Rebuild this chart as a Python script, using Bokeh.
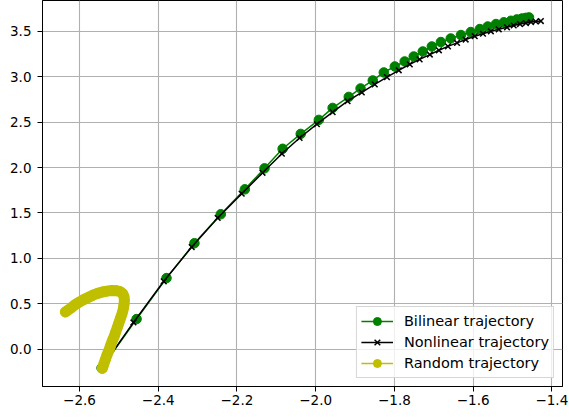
from bokeh.plotting import figure
from bokeh.models import FixedTicker, CustomJSTickFormatter, Range1d
from bokeh.embed import file_html
from bokeh.resources import INLINE

# Bilinear trajectory (green, circles)
bil_x = [-2.544, -2.455, -2.379, -2.308, -2.241, -2.180, -2.130, -2.084, -2.038, -1.992,
         -1.957, -1.916, -1.886, -1.855, -1.827, -1.799, -1.774, -1.751, -1.728, -1.705,
         -1.682, -1.657, -1.631, -1.606, -1.583, -1.563, -1.542, -1.522, -1.504, -1.489,
         -1.476, -1.466, -1.458]
bil_y = [-0.207, 0.332, 0.783, 1.167, 1.486, 1.760, 1.991, 2.206, 2.370, 2.524,
         2.656, 2.777, 2.870, 2.958, 3.046, 3.112, 3.167, 3.222, 3.277, 3.332,
         3.381, 3.420, 3.458, 3.491, 3.524, 3.552, 3.579, 3.598, 3.615, 3.630,
         3.640, 3.647, 3.652]

# Nonlinear trajectory (black, x markers)
non_x = [-2.544, -2.463, -2.386, -2.315, -2.249, -2.188, -2.135, -2.086, -2.041, -1.997,
         -1.957, -1.919, -1.883, -1.850, -1.819, -1.789, -1.761, -1.736, -1.710, -1.687,
         -1.664, -1.641, -1.619, -1.596, -1.575, -1.555, -1.535, -1.514, -1.497, -1.481,
         -1.466, -1.453, -1.441, -1.428]
non_y = [-0.207, 0.295, 0.748, 1.125, 1.445, 1.712, 1.942, 2.152, 2.325, 2.478,
         2.610, 2.730, 2.827, 2.915, 2.995, 3.070, 3.135, 3.190, 3.243, 3.290,
         3.333, 3.372, 3.408, 3.445, 3.472, 3.499, 3.521, 3.543, 3.563, 3.579,
         3.590, 3.601, 3.607, 3.612]

# Random trajectory (yellow, circles)
rnd_x = [-2.542, -2.538, -2.534, -2.530, -2.525, -2.521, -2.517, -2.512, -2.508, -2.504,
         -2.500, -2.496, -2.492, -2.489, -2.487, -2.486, -2.487, -2.490, -2.497, -2.507,
         -2.518, -2.530, -2.542, -2.554, -2.566, -2.578, -2.590, -2.602, -2.613, -2.623,
         -2.631, -2.636]
rnd_y = [-0.210, -0.160, -0.110, -0.060, -0.010, 0.040, 0.090, 0.140, 0.190, 0.240,
         0.290, 0.340, 0.390, 0.440, 0.490, 0.540, 0.580, 0.610, 0.635, 0.645,
         0.647, 0.640, 0.630, 0.615, 0.595, 0.570, 0.545, 0.515, 0.485, 0.450,
         0.425, 0.410]

x_ticks = [-2.6, -2.4, -2.2, -2.0, -1.8, -1.6, -1.4]
y_ticks = [0.0, 0.5, 1.0, 1.5, 2.0, 2.5, 3.0, 3.5]

FONT = "DejaVu Sans"

p = figure(width=569, height=417, output_backend="svg", toolbar_location=None,
           x_range=Range1d(-2.694, -1.373), y_range=Range1d(-0.41, 3.838),
           min_border_left=42, min_border_right=7, min_border_top=0, min_border_bottom=31)

p.outline_line_color = "black"
p.outline_line_width = 1
p.xgrid.grid_line_color = "#b0b0b0"
p.ygrid.grid_line_color = "#b0b0b0"
p.xgrid.grid_line_width = 1.1
p.ygrid.grid_line_width = 1.1

fmt = CustomJSTickFormatter(code="return tick.toFixed(1).replace('-', '\u2212');")
for ax, ticks in ((p.xaxis, x_ticks), (p.yaxis, y_ticks)):
    ax.ticker = FixedTicker(ticks=ticks)
    ax.formatter = fmt
    ax.major_tick_out = 5
    ax.major_tick_in = 0
    ax.minor_tick_out = 0
    ax.minor_tick_in = 0
    ax.axis_line_color = "black"
    ax.major_tick_line_color = "black"
    ax.major_label_text_font = FONT
    ax.major_label_text_font_size = "13.5px"
    ax.major_label_text_color = "black"
p.xaxis.major_label_standoff = 3
p.yaxis.major_label_standoff = 6

green = "#008000"
yellow = "#bfbf00"

p.line(bil_x, bil_y, color=green, line_width=1.5, legend_label="Bilinear trajectory")
p.scatter(bil_x, bil_y, marker="circle", size=9.5, color=green, legend_label="Bilinear trajectory")

p.line(non_x, non_y, color="black", line_width=1.5, legend_label="Nonlinear trajectory")
p.scatter(non_x, non_y, marker="x", size=8, line_color="black", line_width=1.5,
          legend_label="Nonlinear trajectory")

p.line(rnd_x, rnd_y, color=yellow, line_width=11, line_cap="round", line_join="round")
p.line(rnd_x, rnd_y, color=yellow, line_width=1.5, legend_label="Random trajectory")
p.scatter(rnd_x, rnd_y, marker="circle", size=9.5, color=yellow, legend_label="Random trajectory")

lg = p.legend[0]
lg.location = "bottom_right"
lg.margin = 8
lg.padding = 4
lg.spacing = 1
lg.glyph_width = 32
lg.glyph_height = 20
lg.label_height = 20
lg.label_standoff = 11
lg.label_text_font = FONT
lg.label_text_font_size = "14.5px"
lg.label_text_color = "black"
lg.border_line_color = "#cccccc"
lg.border_line_alpha = 0.8
lg.background_fill_alpha = 0.8

open("out.html", "w").write(file_html(p, INLINE))
